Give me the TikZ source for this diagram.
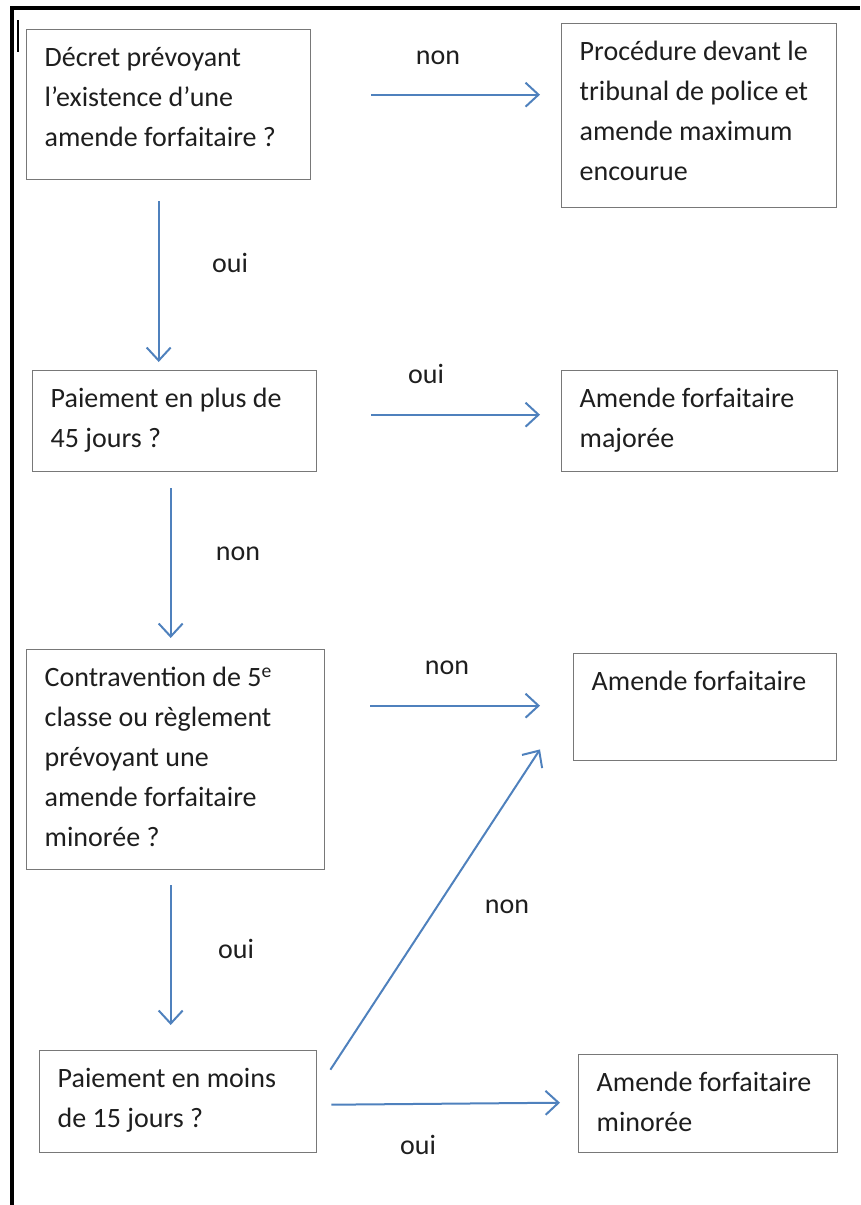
\documentclass[tikz,border=0pt]{standalone}
\usepackage{fontspec}
\setmainfont{Carlito}
\usetikzlibrary{arrows.meta,calc}

\definecolor{arrowblue}{RGB}{79,129,189}
\definecolor{boxgray}{RGB}{120,120,120}
\definecolor{txtgray}{RGB}{30,30,30}

\newcommand{\boxfont}{\fontsize{28}{40}\selectfont}
\newcommand{\boxtext}[3]{\parbox[t][#2pt][t]{#1pt}{\raggedright\strut #3}}

\tikzset{
    box/.style={draw=boxgray, line width=1.4pt, anchor=north west, inner xsep=18pt,
        inner ysep=9pt, font=\boxfont, text=txtgray},
    answer/.style={anchor=base, font=\boxfont, text=txtgray, inner sep=0pt},
    flow/.style={arrowblue, line width=2pt, -{Straight Barb[length=13pt, width=24pt, line width=2pt]}}
}

\begin{document}
\begin{tikzpicture}[x=1pt, y=-1pt]
    \useasboundingbox (0,0) rectangle (860,1205);
    % Frame of the page.
        \draw[black, line width=4pt] (12,1205) -- (12,8) -- (860,8);
        \draw[black, line width=2.5pt] (18,20) -- (18,52);
    % Below nodes are the boxes.
        \node[box] (decret) at (26,29) {\boxtext{248}{132}{D\'ecret pr\'evoyant\\ l'existence d'une\\ amende forfaitaire ?}};
        \node[box] (tribunal) at (561,23) {\boxtext{239}{166}{Proc\'edure devant le\\ tribunal de police et\\ amende maximum\\ encourue}};
        \node[box] (plus45) at (32,370) {\boxtext{248}{83}{Paiement en plus de\\ 45 jours ?}};
        \node[box] (majoree) at (561,370) {\boxtext{240}{83}{Amende forfaitaire\\ major\'ee}};
        \node[box] (classe5) at (26,649) {\boxtext{262}{202}{Contravention de 5\textsuperscript{e}\\ classe ou r\`eglement\\ pr\'evoyant une\\ amende forfaitaire\\ minor\'ee ?}};
        \node[box] (forfait) at (573,653) {\boxtext{227}{89}{Amende forfaitaire}};
        \node[box] (moins15) at (39,1050) {\boxtext{241}{84}{Paiement en moins\\ de 15 jours ?}};
        \node[box] (minoree) at (578,1054) {\boxtext{223}{80}{Amende forfaitaire\\ minor\'ee}};
    % The arrows between the boxes.
        \draw[flow] ($(decret.east)+(60,-10)$) -- ($(tribunal.west)+(-21,-21)$);
        \draw[flow] ($(decret.south)+(-10,21)$) -- ($(plus45.north)+(-16,-8)$);
        \draw[flow] ($(plus45.east)+(54,-6.5)$) -- ($(majoree.west)+(-21,-6.5)$);
        \draw[flow] ($(plus45.south)+(-4,16)$) -- ($(classe5.north)+(-5,-11)$);
        \draw[flow] ($(classe5.east)+(45,-54)$) -- ($(forfait.west)+(-33,-1.5)$);
        \draw[flow] ($(classe5.south)+(-5,15)$) -- ($(moins15.north)+(-7.5,-25)$);
        \draw[flow] ($(moins15.east)+(13,-32)$) -- ($(forfait.south west)+(-33,-12)$);
        \draw[flow] ($(moins15.east)+(14,3)$) -- ($(minoree.west)+(-18,-1)$);
    % Below nodes are the labels.
        \node[answer] (l1) at (438,64) {non};
        \node[answer] (l2) at (230,272) {oui};
        \node[answer] (l3) at (426,383) {oui};
        \node[answer] (l4) at (238,560) {non};
        \node[answer] (l5) at (447,674) {non};
        \node[answer] (l6) at (236,958) {oui};
        \node[answer] (l7) at (507,913) {non};
        \node[answer] (l8) at (418,1154) {oui};
\end{tikzpicture}
\end{document}
